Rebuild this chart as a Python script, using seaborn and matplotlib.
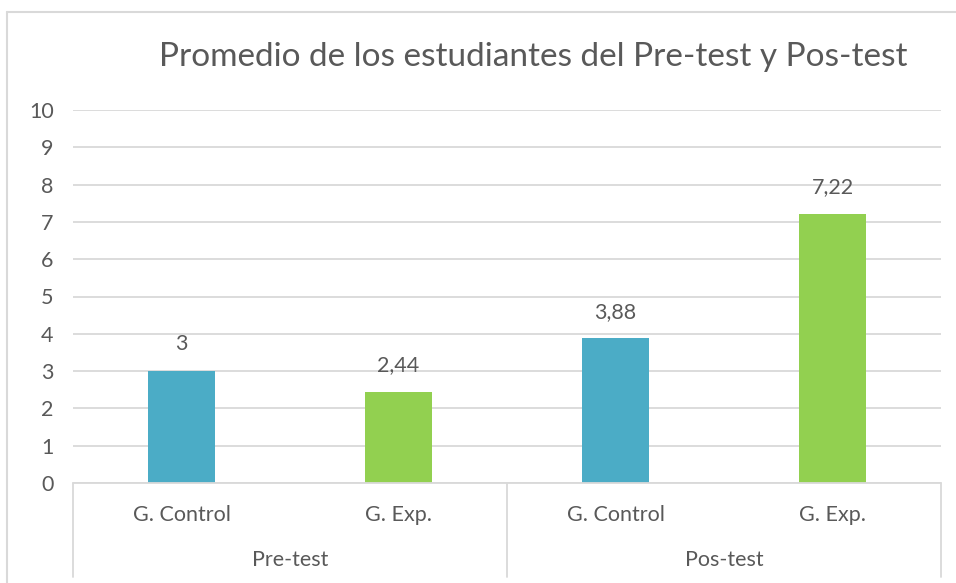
import matplotlib
matplotlib.use("Agg")
import matplotlib.pyplot as plt
import seaborn as sns
import pandas as pd
from matplotlib.lines import Line2D
from matplotlib.transforms import blended_transform_factory

# ---- data ----
phases = ["Pre-test", "Pre-test", "Pos-test", "Pos-test"]
groups = ["G. Control", "G. Exp.", "G. Control", "G. Exp."]
values = [3.0, 2.44, 3.88, 7.22]
value_labels = ["3", "2,44", "3,88", "7,22"]
phase_names = ["Pre-test", "Pos-test"]
title = "Promedio de los estudiantes del Pre-test y Pos-test"
yticks = list(range(0, 11))

colors = {"G. Control": "#4BACC6", "G. Exp.": "#92D050"}
text_color = "#595959"
grid_color = "#D9D9D9"

sns.set_theme(style="white")
plt.rcParams["font.family"] = ["Lato", "DejaVu Sans"]

W, H = 956, 583
fig = plt.figure(figsize=(W / 100, H / 100), dpi=100)
x0, x1, yb, yt = 73, 941, 483, 110
ax = fig.add_axes([x0 / W, 1 - yb / H, (x1 - x0) / W, (yb - yt) / H])

df = pd.DataFrame({
    "key": [f"{p}|{g}" for p, g in zip(phases, groups)],
    "group": groups,
    "value": values,
})
order = list(df["key"])
sns.barplot(data=df, x="key", y="value", hue="group", order=order,
            palette=colors, dodge=False, width=0.313, saturation=1,
            legend=False, ax=ax, zorder=3, linewidth=0)

fs = 15.5
ax.set_ylim(0, 10)
ax.set_xlim(-0.5, len(order) - 0.5)
ax.set_yticks(yticks)
ax.set_yticklabels([str(t) for t in yticks], fontsize=fs, color=text_color)
ax.tick_params(axis="y", length=0, pad=14)
ax.set_xticks([])
ax.set_xlabel("")
ax.set_ylabel("")
for s in ax.spines.values():
    s.set_visible(False)
ax.yaxis.grid(True, color=grid_color, lw=1.3, zorder=0)
ax.set_axisbelow(True)

# value labels
for i, (v, lab) in enumerate(zip(values, value_labels)):
    ax.annotate(lab, (i, v), xytext=(0, 12), textcoords="offset points",
                ha="center", va="bottom", fontsize=fs, color=text_color)

# multi-level category axis
trans = blended_transform_factory(ax.transData, ax.transAxes)
ph = (yb - yt)
for i, g in enumerate(groups):
    ax.text(i, -(515 - yb) / ph, g, transform=trans, ha="center", va="center",
            fontsize=fs, color=text_color)
for j, p in enumerate(phase_names):
    ax.text(2 * j + 0.5, -(560 - yb) / ph, p, transform=trans, ha="center",
            va="center", fontsize=fs, color=text_color)
bottom = -(577 - yb) / ph
for xx in [0, 0.5, 1]:
    ax.add_line(Line2D([xx, xx], [0, bottom], transform=ax.transAxes,
                       color=grid_color, lw=1.3, clip_on=False))
ax.add_line(Line2D([0, 1], [0, 0], transform=ax.transAxes,
                   color=grid_color, lw=1.3, clip_on=False, zorder=4))

# title
fig.text(533 / W, 1 - 57 / H, title, ha="center", va="center",
         fontsize=24, color=text_color)

# chart frame
fx = 7 / W
fy = 1 - 12 / H
fig.add_artist(Line2D([fx, 1], [fy, fy], transform=fig.transFigure,
                      color=grid_color, lw=1.5))
fig.add_artist(Line2D([fx, fx], [0, fy], transform=fig.transFigure,
                      color=grid_color, lw=1.5))

fig.savefig("out.png", dpi=100, facecolor="white")
